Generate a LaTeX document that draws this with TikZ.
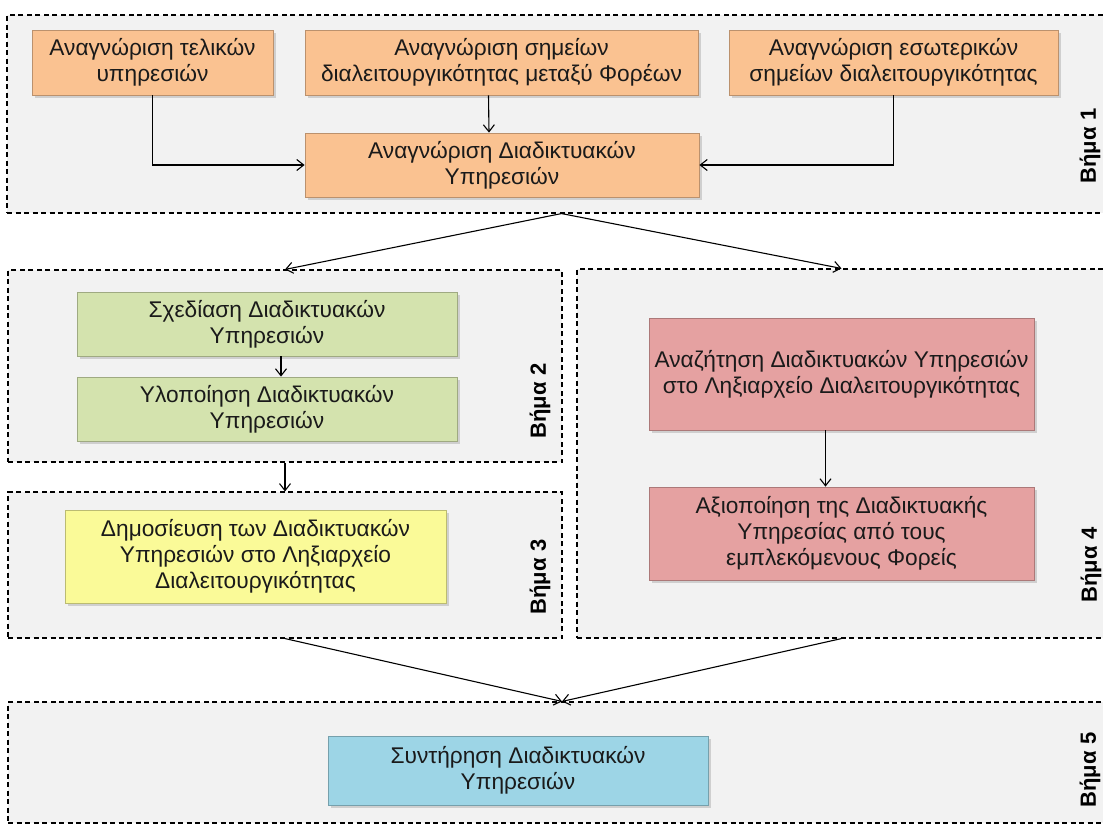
\documentclass[tikz,border=0pt]{standalone}
\usepackage{fontspec}
\setmainfont{Liberation Sans}
\usetikzlibrary{arrows.meta,shadows}

\definecolor{stepbg}{HTML}{F2F2F2}
\definecolor{orangefill}{HTML}{FAC291}
\definecolor{greenfill}{HTML}{D4E3AE}
\definecolor{yellowfill}{HTML}{FAFA98}
\definecolor{redfill}{HTML}{E5A1A1}
\definecolor{cyanfill}{HTML}{9DD5E6}
\definecolor{textdark}{HTML}{1A1A1A}

\begin{document}
\begin{tikzpicture}[x=1pt,y=-1pt,
  font=\fontsize{22.7}{26}\selectfont,
  stage/.style={draw=black, fill=stepbg, dash pattern=on 5pt off 3.5pt,
    line width=1.1pt, inner sep=0pt},
  task/.style={align=center, inner sep=0pt, line width=0.8pt, text=textdark,
    drop shadow={shadow xshift=2.5pt, shadow yshift=-2.5pt, opacity=0.3}},
  orangebox/.style={task, fill=orangefill, draw=orangefill!75!black},
  greenbox/.style={task, fill=greenfill, draw=greenfill!75!black},
  yellowbox/.style={task, fill=yellowfill, draw=yellowfill!75!black},
  redbox/.style={task, fill=redfill, draw=redfill!75!black},
  cyanbox/.style={task, fill=cyanfill, draw=cyanfill!75!black},
  link/.style={-{Straight Barb[length=7pt,width=11pt]}, line width=1.1pt},
  steplabel/.style={rotate=90, font=\fontsize{22}{26}\selectfont\bfseries}
]
\useasboundingbox (0,0) rectangle (1103,825);

% stage containers
\node[stage, minimum width=1099pt, minimum height=198pt] (s1) at (556.5,114) {};
\node[stage, minimum width=554pt,  minimum height=192pt] (s2) at (285,366) {};
\node[stage, minimum width=554pt,  minimum height=146pt] (s3) at (285,565) {};
\node[stage, minimum width=529pt,  minimum height=369pt] (s4) at (841.5,453.5) {};
\node[stage, minimum width=1098pt, minimum height=121pt] (s5) at (557,762.5) {};

% step 1
\node[orangebox, minimum width=241pt, minimum height=65pt] (a) at (152.5,62.5)
  {Αναγνώριση τελικών\\υπηρεσιών};
\node[orangebox, minimum width=393pt, minimum height=65pt] (b) at (501.5,62.5)
  {Αναγνώριση σημείων\\διαλειτουργικότητας μεταξύ Φορέων};
\node[orangebox, minimum width=329pt, minimum height=65pt] (c) at (893.5,62.5)
  {Αναγνώριση εσωτερικών\\σημείων διαλειτουργικότητας};
\node[orangebox, minimum width=394pt, minimum height=64pt] (d) at (502,165)
  {Αναγνώριση Διαδικτυακών\\Υπηρεσιών};

% step 2
\node[greenbox, minimum width=380pt, minimum height=64pt] (g1) at (267,324)
  {Σχεδίαση Διαδικτυακών\\Υπηρεσιών};
\node[greenbox, minimum width=380pt, minimum height=64pt] (g2) at (267,409)
  {Υλοποίηση Διαδικτυακών\\Υπηρεσιών};

% step 3
\node[yellowbox, minimum width=381pt, minimum height=93pt] (y) at (255.5,556.5)
  {Δημοσίευση των Διαδικτυακών\\Υπηρεσιών στο Ληξιαρχείο\\Διαλειτουργικότητας};

% step 4
\node[redbox, minimum width=385pt, minimum height=112pt] (r1) at (841.5,374)
  {Αναζήτηση Διαδικτυακών Υπηρεσιών\\στο Ληξιαρχείο Διαλειτουργικότητας};
\node[redbox, minimum width=385pt, minimum height=93pt] (r2) at (841.5,533.5)
  {Αξιοποίηση της Διαδικτυακής\\Υπηρεσίας από τους\\εμπλεκόμενους Φορείς};

% step 5
\node[cyanbox, minimum width=380pt, minimum height=69pt] (cy) at (518,770.5)
  {Συντήρηση Διαδικτυακών\\Υπηρεσιών};

% step labels
\node[steplabel] (l1) at (1090,146) {Βήμα 1};
\node[steplabel] (l2) at (540,401) {Βήμα 2};
\node[steplabel] (l3) at (540,577) {Βήμα 3};
\node[steplabel] (l4) at (1091,565) {Βήμα 4};
\node[steplabel] (l5) at (1090,770) {Βήμα 5};

% connectors inside step 1
\draw[link] (a.south) |- (d.west);
\draw[link] ([xshift=-13pt]b.south) -- ([xshift=-13pt]d.north);
\draw[link] (c.south) |- (d.east);

% connectors between stages
\draw[link] ([xshift=5pt]s1.south) -- (s2.north);
\draw[link] ([xshift=5pt]s1.south) -- (s4.north);
\draw[link] ([xshift=14pt]g1.south) -- ([xshift=14pt]g2.north);
\draw[link] (s2.south) -- (s3.north);
\draw[link] ([xshift=-16pt]r1.south) -- ([xshift=-16pt]r2.north);
\draw[link] (s3.south) -- ([xshift=5pt]s5.north);
\draw[link] (s4.south) -- ([xshift=5pt]s5.north);
\end{tikzpicture}
\end{document}
